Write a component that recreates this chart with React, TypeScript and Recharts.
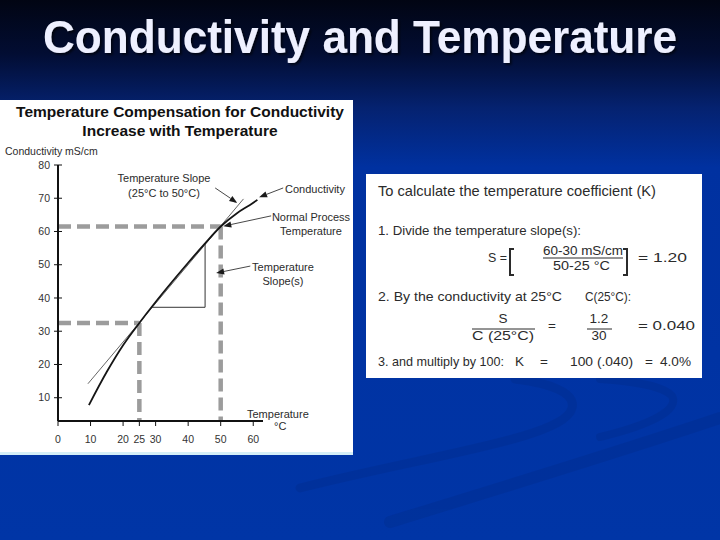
import React from "react";
import { ComposedChart, Line, XAxis, YAxis, ReferenceLine } from "recharts";

// values
const xTicks = [0, 10, 20, 25, 30, 40, 50, 60];
const yTicks = [10, 20, 30, 40, 50, 60, 70, 80];

const conductivity = [
  { x: 9.5, y: 7.8 },
  { x: 15, y: 17.8 },
  { x: 20, y: 25.8 },
  { x: 25, y: 32.5 },
  { x: 30, y: 38.8 },
  { x: 35, y: 44.8 },
  { x: 40, y: 50.6 },
  { x: 45, y: 56.2 },
  { x: 50, y: 61.5 },
  { x: 55, y: 65.5 },
  { x: 59, y: 68.0 },
  { x: 61.3, y: 69.5 },
];

// temperature slope 25°C to 50°C
const slopeLine = [
  { x: 9.2, y: 14.2 },
  { x: 57, y: 69.8 },
];

const slopeTriangle = [
  { x: 28.9, y: 37.2 },
  { x: 45.2, y: 37.2 },
  { x: 45.2, y: 56.3 },
];

// dashed guides at 25°C and 50°C
const guides = [
  [{ x: 0, y: 61.5 }, { x: 50, y: 61.5 }],
  [{ x: 50, y: 61.5 }, { x: 50, y: 3 }],
  [{ x: 0, y: 32.5 }, { x: 25, y: 32.5 }],
  [{ x: 25, y: 32.5 }, { x: 25, y: 3 }],
];

// annotation arrows: tail, head
const arrows = [
  [{ x: 48.3, y: 73.1 }, { x: 55.1, y: 68.6 }],
  [{ x: 69.2, y: 73.1 }, { x: 61.8, y: 70.3 }],
  [{ x: 65.5, y: 64.7 }, { x: 50.8, y: 61.6 }],
  [{ x: 59.1, y: 49.6 }, { x: 48.6, y: 47.5 }],
];

const FONT = "'Liberation Sans', Arial, sans-serif";
const INK = "#2b2b2b";

const ArrowShape = (props: any) => {
  const { x1, y1, x2, y2 } = props;
  const ang = Math.atan2(y2 - y1, x2 - x1);
  const L = 8;
  const W = 3;
  const bx = x2 - L * Math.cos(ang);
  const by = y2 - L * Math.sin(ang);
  const px = -Math.sin(ang) * W;
  const py = Math.cos(ang) * W;
  return (
    <g>
      <line x1={x1} y1={y1} x2={bx} y2={by} stroke="#333" strokeWidth={0.9} />
      <polygon
        points={`${x2},${y2} ${bx + px},${by + py} ${bx - px},${by - py}`}
        fill="#1a1a1a"
      />
    </g>
  );
};

const YTick = (props: any) => {
  const { x, y, payload } = props;
  return (
    <g>
      <line x1={x + 4} x2={x + 12} y1={y} y2={y} stroke="#111" strokeWidth={1} />
      <text
        x={x}
        y={y}
        dy="0.35em"
        textAnchor="end"
        fontSize={10.5}
        fill="#333"
        fontFamily={FONT}
      >
        {payload.value}
      </text>
    </g>
  );
};

const T = (p: any) => (
  <text fontFamily={FONT} fill={INK} fontSize={11} {...p} />
);

const ChartPanel = () => (
  <div
    style={{
      position: "absolute",
      left: 0,
      top: 100,
      width: 353,
      height: 355,
      background: "#ffffff",
      borderBottom: "3px solid #d4eef7",
      boxSizing: "border-box",
    }}
  >
    <ComposedChart
      width={353}
      height={355}
      margin={{ top: 65, right: 90, bottom: 0, left: 0 }}
      style={{ position: "absolute", left: 0, top: 0 }}
    >
      <XAxis
        type="number"
        dataKey="x"
        domain={[0, 63]}
        allowDataOverflow
        ticks={xTicks}
        interval={0}
        height={34}
        axisLine={{ stroke: "#111", strokeWidth: 2 }}
        tickLine={{ stroke: "#111", strokeWidth: 1 }}
        tickSize={5}
        tickMargin={10}
        tick={{ fontSize: 10.5, fill: "#333", fontFamily: FONT }}
      />
      <YAxis
        type="number"
        domain={[3, 80]}
        allowDataOverflow
        ticks={yTicks}
        interval={0}
        width={58}
        axisLine={{ stroke: "#111", strokeWidth: 2 }}
        tickLine={false}
        tickSize={4}
        tickMargin={4}
        tick={<YTick />}
      />
      {guides.map((seg, i) => (
        <ReferenceLine
          key={"g" + i}
          segment={seg}
          stroke="#9c9c9c"
          strokeWidth={4.5}
          strokeDasharray="13 6"
          ifOverflow="visible"
        />
      ))}
      <Line
        data={slopeTriangle}
        dataKey="y"
        type="linear"
        stroke="#333"
        strokeWidth={1}
        dot={false}
        activeDot={false}
        isAnimationActive={false}
      />
      <Line
        data={slopeLine}
        dataKey="y"
        type="linear"
        stroke="#555"
        strokeWidth={0.9}
        dot={false}
        activeDot={false}
        isAnimationActive={false}
      />
      <Line
        data={conductivity}
        dataKey="y"
        type="monotone"
        stroke="#151515"
        strokeWidth={1.8}
        dot={false}
        activeDot={false}
        isAnimationActive={false}
      />
      {arrows.map((seg, i) => (
        <ReferenceLine
          key={"a" + i}
          segment={seg}
          ifOverflow="visible"
          shape={(p: any) => <ArrowShape {...p} />}
        />
      ))}
    </ComposedChart>
    <svg
      width={353}
      height={355}
      style={{ position: "absolute", left: 0, top: 0, pointerEvents: "none" }}
    >
      <T x={180} y={17} textAnchor="middle" fontSize={15.5} fontWeight="bold" fill="#111">
        Temperature Compensation for Conductivity
      </T>
      <T x={180} y={36} textAnchor="middle" fontSize={15.5} fontWeight="bold" fill="#111">
        Increase with Temperature
      </T>
      <T x={5} y={55} fontSize={10.5}>Conductivity mS/cm</T>
      <T x={164} y={82} textAnchor="middle">Temperature Slope</T>
      <T x={164} y={97} textAnchor="middle">(25°C to 50°C)</T>
      <T x={285} y={93}>Conductivity</T>
      <T x={311} y={121} textAnchor="middle">Normal Process</T>
      <T x={311} y={135} textAnchor="middle">Temperature</T>
      <T x={283} y={171} textAnchor="middle">Temperature</T>
      <T x={283} y={185} textAnchor="middle">Slope(s)</T>
      <T x={247} y={318}>Temperature</T>
      <T x={274} y={330}>°C</T>
    </svg>
  </div>
);

const B = (p: any) => <text fontFamily={FONT} fill={INK} fontSize={13.5} {...p} />;

const FormulaBox = () => (
  <div
    style={{
      position: "absolute",
      left: 366,
      top: 174,
      width: 336,
      height: 204,
      background: "#ffffff",
    }}
  >
    <svg width={336} height={204}>
      <B x={12} y={22} fontSize={14.5} textLength={278} lengthAdjust="spacingAndGlyphs">
        To calculate the temperature coefficient (K)
      </B>
      <B x={12} y={61} textLength={203} lengthAdjust="spacingAndGlyphs">
        1. Divide the temperature slope(s):
      </B>
      <B x={122} y={88} textLength={19} lengthAdjust="spacingAndGlyphs">S =</B>
      <path d="M148 75 H144 V101 H148" fill="none" stroke={INK} strokeWidth={2} />
      <B x={177} y={81} fontSize={12.5} textLength={80} lengthAdjust="spacingAndGlyphs">
        60-30 mS/cm
      </B>
      <line x1={177} x2={257} y1={84} y2={84} stroke={INK} strokeWidth={1} />
      <B x={187} y={96} fontSize={12.5} textLength={57} lengthAdjust="spacingAndGlyphs">
        50-25 °C
      </B>
      <path d="M257 75 H261 V101 H257" fill="none" stroke={INK} strokeWidth={2} />
      <B x={272} y={88} textLength={49} lengthAdjust="spacingAndGlyphs">= 1.20</B>
      <B x={12} y={127} textLength={184} lengthAdjust="spacingAndGlyphs">
        2. By the conductivity at 25°C
      </B>
      <B x={219} y={127} textLength={46} lengthAdjust="spacingAndGlyphs">C(25°C):</B>
      <B x={137} y={149} textAnchor="middle">S</B>
      <line x1={106} x2={169} y1={155} y2={155} stroke={INK} strokeWidth={1} />
      <B x={106} y={166} textLength={62} lengthAdjust="spacingAndGlyphs">C (25°C)</B>
      <B x={186} y={156} textAnchor="middle">=</B>
      <B x={233} y={149} textAnchor="middle">1.2</B>
      <line x1={221} x2={246} y1={155} y2={155} stroke={INK} strokeWidth={1} />
      <B x={233} y={166} textAnchor="middle">30</B>
      <B x={272} y={156} textLength={57} lengthAdjust="spacingAndGlyphs">= 0.040</B>
      <B x={12} y={192} textLength={126} lengthAdjust="spacingAndGlyphs">
        3. and multiply by 100:
      </B>
      <B x={149} y={192}>K</B>
      <B x={174} y={192}>=</B>
      <B x={204} y={192} textLength={63} lengthAdjust="spacingAndGlyphs">100 (.040)</B>
      <B x={279} y={192}>=</B>
      <B x={294} y={192} textLength={31} lengthAdjust="spacingAndGlyphs">4.0%</B>
    </svg>
  </div>
);

export default function App() {
  return (
    <div
      style={{
        position: "absolute",
        left: 0,
        top: 0,
        width: 720,
        height: 540,
        overflow: "hidden",
        background:
          "linear-gradient(180deg, #010513 0%, #020d33 10%, #052270 20%, #0031a0 31%, #0035a6 100%)",
        fontFamily: FONT,
      }}
    >
      <svg
        width={720}
        height={540}
        style={{ position: "absolute", left: 0, top: 0 }}
      >
        <defs>
          <filter id="titleShadow" x="-5%" y="-20%" width="110%" height="150%">
            <feDropShadow dx="2" dy="2" stdDeviation="1.2" floodColor="#000" floodOpacity="0.6" />
          </filter>
        </defs>
        <g fill="none" stroke="#002a85" strokeLinecap="round" opacity={0.3}>
          <path d="M300 488 C430 455 565 438 572 408 C576 392 548 383 515 379" strokeWidth={9} />
          <path d="M390 522 C500 488 610 455 720 418" strokeWidth={12} />
          <path d="M600 437 C650 425 680 410 672 396 C664 386 632 381 600 379" strokeWidth={8} />
        </g>
        <text
          x={360}
          y={53}
          textAnchor="middle"
          fontFamily={FONT}
          fontWeight="bold"
          fontSize={46}
          fill="#eef0ff"
          textLength={634}
          lengthAdjust="spacingAndGlyphs"
          filter="url(#titleShadow)"
        >
          Conductivity and Temperature
        </text>
      </svg>
      <ChartPanel />
      <FormulaBox />
    </div>
  );
}
